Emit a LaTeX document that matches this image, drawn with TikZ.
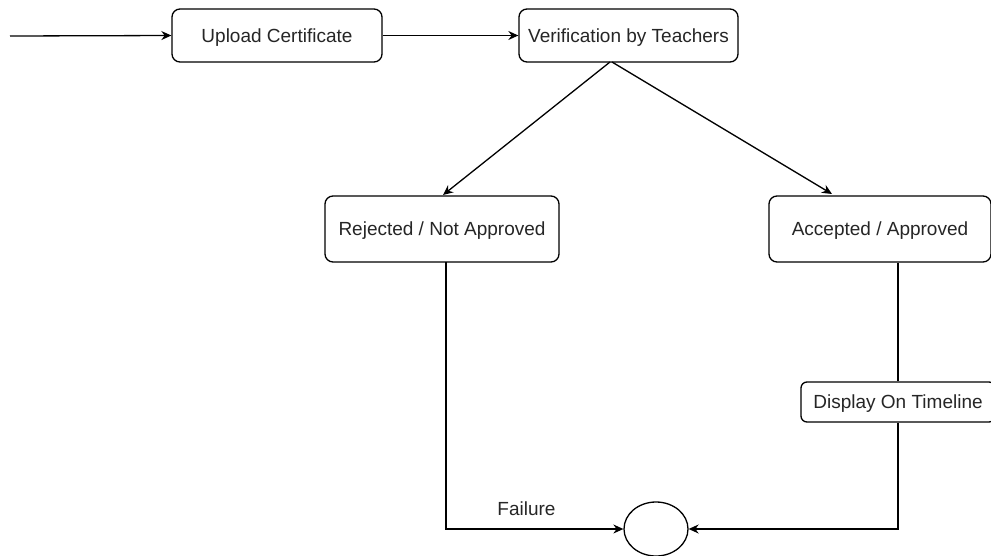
\documentclass[tikz,border=0pt]{standalone}
\usepackage{fontspec}
\setmainfont{Liberation Sans}
\usetikzlibrary{arrows.meta,shapes.geometric}
\begin{document}
\begin{tikzpicture}[x=1pt,y=-1pt,
  every node/.style={font=\fontsize{19}{23}\selectfont, text=black!85},
  state/.style={draw, line width=1.3pt, rounded corners=8pt, inner sep=0pt, fill=white,
    text height=13pt, text depth=0pt},
  flow/.style={line width=1.3pt, -{Stealth[length=10pt,width=9pt]}},
  plain/.style={line width=1.3pt}]
\useasboundingbox (0,0) rectangle (991,555);
\coordinate (start) at (10,36);
\node[state, minimum width=210pt, minimum height=53pt] (upload) at (277,35.5) {Upload Certificate};
\node[state, minimum width=219pt, minimum height=53pt] (verify) at (628.5,35.5) {Verification by Teachers};
\node[state, minimum width=234pt, minimum height=66pt] (reject) at (442,229) {Rejected / Not Approved};
\node[state, minimum width=222pt, minimum height=66pt] (accept) at (880,229) {Accepted / Approved};
\node[state, minimum width=194pt, minimum height=40pt, rounded corners=6pt] (display) at (898,402) {Display On Timeline};
\node[draw, ellipse, line width=1.3pt, minimum width=64pt, minimum height=54pt, inner sep=0pt] (final) at (656,529) {};
\coordinate (vbl) at (610,62);
\coordinate (vbr) at (612,62);
\draw[flow] (start) -- (upload.west);
\draw[flow] (upload.east) -- (verify.west);
\draw[flow] (vbl) -- (443,195);
\draw[flow] (vbr) -- (832,194);
\draw[flow] (446,262) |- node[pos=0.727, above=13pt, inner sep=0pt] {Failure} (final.west);
\draw[plain] (accept.south -| display) -- (display.north);
\draw[flow] (display.south) |- (final.east);
\end{tikzpicture}
\end{document}
